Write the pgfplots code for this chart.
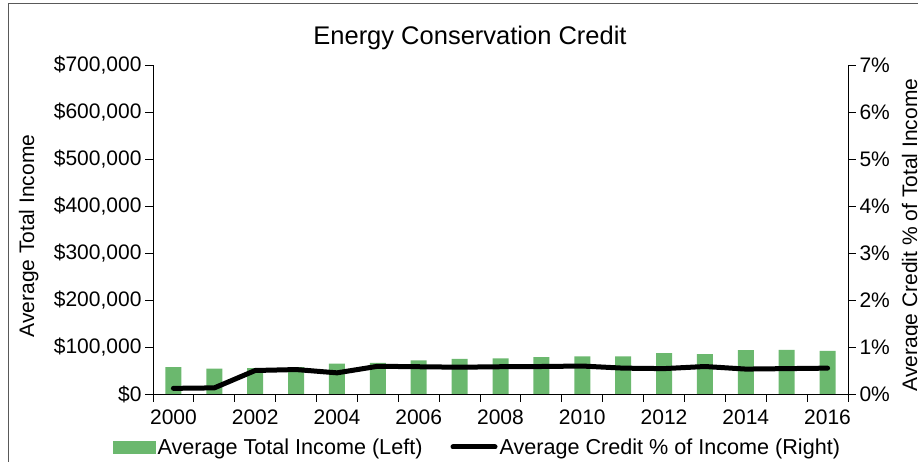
\documentclass[border=0pt]{standalone}
\usepackage{fontspec}
\setmainfont{Liberation Sans}
\usepackage{pgfplots}
\pgfplotsset{compat=1.18}
\definecolor{barc}{RGB}{107,184,110}

\begin{document}
\begin{tikzpicture}
\pgfplotsset{
  every axis/.append style={
    scale only axis, width=695pt, height=329pt,
    at={(153pt,68pt)}, anchor=south west,
    xmin=1999.5, xmax=2016.5,
    tick align=outside,
    major tick length=8pt, minor tick length=8pt,
    every tick/.style={black, line width=0.9pt},
    axis line style={black, line width=0.9pt},
    tick label style={font=\fontsize{21}{24}\selectfont},
  },
}
% left axis: income bars
\begin{axis}[
  axis y line*=left, axis x line*=bottom,
  ymin=0, ymax=700000, ytick={0,100000,...,700000},
  scaled y ticks=false,
  yticklabel={\$\pgfmathprintnumber[fixed,precision=0,1000 sep={,},assume math mode=true]{\tick}},
  xtick={2000,2002,...,2016},
  xticklabel={\pgfmathprintnumber[1000 sep={},assume math mode=true]{\tick}},
  minor xtick={1999.5,2000.5,...,2016.5},
  x tick style={draw=none},
  minor x tick style={draw=black, line width=0.9pt},
  xticklabel style={yshift=-4pt},
]
\addplot[ybar, bar width=16pt, fill=barc, draw=none] coordinates {
  (2000,57400) (2001,54000) (2002,55000) (2003,57000) (2004,64500)
  (2005,66000) (2006,71700) (2007,74500) (2008,76000) (2009,78700)
  (2010,80000) (2011,80000) (2012,87000) (2013,85000) (2014,93600)
  (2015,94000) (2016,92000)
};
\end{axis}
% right axis: credit share
\begin{axis}[
  axis y line*=right, axis x line=none,
  ymin=0, ymax=7, ytick={0,1,...,7},
  yticklabel={\pgfmathprintnumber[assume math mode=true]{\tick}\%},
  legend columns=2,
  legend style={at={(-0.0576,-0.161)}, anchor=west, draw=none, fill=none,
    inner sep=0pt, font=\fontsize{21.6}{24}\selectfont,
    nodes={inner sep=2pt}, cells={anchor=west},
    /tikz/every even column/.append style={column sep=26pt}},
]
\addlegendimage{legend image code/.code={\fill[barc] (0pt,-6pt) rectangle (42pt,6pt);}}
\addlegendentry{Average Total Income (Left)}
\addplot[black, line width=5pt, line cap=round, line join=round,
  legend image code/.code={\draw[black, line width=5pt] (0pt,0pt) -- (42pt,0pt);}]
  coordinates {
  (2000,0.12) (2001,0.13) (2002,0.50) (2003,0.52) (2004,0.45)
  (2005,0.59) (2006,0.58) (2007,0.57) (2008,0.58) (2009,0.585)
  (2010,0.595) (2011,0.55) (2012,0.54) (2013,0.585) (2014,0.53)
  (2015,0.54) (2016,0.55)
};
\addlegendentry{Average Credit \% of Income (Right)}
\end{axis}
\node[font=\fontsize{25.5}{30}\selectfont] at (470pt,424pt) {Energy Conservation Credit};
\node[rotate=90, anchor=base, font=\fontsize{21}{24}\selectfont] at (34pt,226pt) {Average Total Income};
\node[rotate=90, anchor=base, font=\fontsize{21}{24}\selectfont] at (917pt,227pt) {Average Credit \% of Total Income};
\draw[black!65, line width=1pt] (8pt,-20pt) -- (8pt,458pt) -- (940pt,458pt);
\pgfresetboundingbox
\path[use as bounding box] (0pt,0pt) rectangle (918pt,462pt);
\end{tikzpicture}
\end{document}
